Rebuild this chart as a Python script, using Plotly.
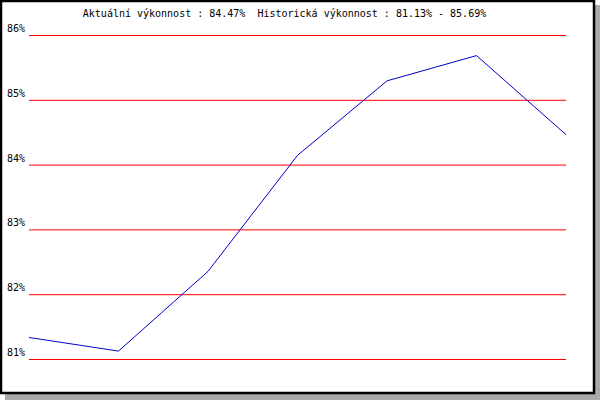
import plotly.graph_objects as go

# Data
points = [0, 1, 2, 3, 4, 5, 6]
performance = [81.34, 81.13, 82.36, 84.15, 85.30, 85.69, 84.47]
y_ticks = [81, 82, 83, 84, 85, 86]
y_tick_labels = [f"{v}%" for v in y_ticks]
title_text = "Aktuální výkonnost : 84.47%  Historická výkonnost : 81.13% - 85.69%"

W, H = 600, 400
ML, MR, MT, MB = 29, 34, 35, 40
PW, PH = W - ML - MR, H - MT - MB
PX_PER_UNIT = (PH - 1) / 5.0
Y_PAD = 0.5 / PX_PER_UNIT

def px_x(px):
    return (px - ML) / PW

def px_y(py):
    return (H - MB - py) / PH

FONT = "DejaVu Sans Mono"

fig = go.Figure()
fig.add_trace(go.Scatter(
    x=points, y=performance, mode="lines",
    line=dict(color="#0000cc", width=1),
    hoverinfo="skip", showlegend=False,
))

shapes = [
    # shadow
    dict(type="rect", xref="paper", yref="paper", layer="below",
         x0=px_x(5), x1=px_x(600), y0=px_y(400), y1=px_y(5),
         fillcolor="#aaaaaa", line=dict(width=0)),
    # frame
    dict(type="rect", xref="paper", yref="paper", layer="below",
         x0=px_x(1), x1=px_x(594), y0=px_y(393), y1=px_y(1),
         fillcolor="white", line=dict(color="black", width=2.5)),
]
# grid lines
for v in y_ticks:
    shapes.append(dict(type="line", xref="paper", yref="y", layer="below",
                       x0=0, x1=1, y0=v, y1=v,
                       line=dict(color="#ff0000", width=1)))

fig.update_layout(
    width=W, height=H,
    margin=dict(l=ML, r=MR, t=MT, b=MB, pad=0, autoexpand=False),
    paper_bgcolor="white", plot_bgcolor="rgba(0,0,0,0)",
    shapes=shapes,
    showlegend=False,
    title=dict(text=title_text, xref="container", yref="container",
               x=284.5 / W, y=1 - 13.8 / H, xanchor="center", yanchor="middle",
               font=dict(family=FONT, size=10, color="black")),
    xaxis=dict(range=[0, 6], showgrid=False, zeroline=False, showline=False,
               showticklabels=False, ticks="", automargin=False),
    yaxis=dict(range=[81 - Y_PAD, 86 + Y_PAD], tickvals=y_ticks, ticktext=y_tick_labels,
               showgrid=False, zeroline=False, showline=False, ticks="",
               automargin=False,
               ticklabelposition="outside top", ticklabelstandoff=3,
               tickfont=dict(family=FONT, size=10, color="black")),
)

fig.write_html("out.html",
               config={"displayModeBar": False, "staticPlot": True},
               post_script="document.body.style.margin='0';document.body.style.padding='0';")
